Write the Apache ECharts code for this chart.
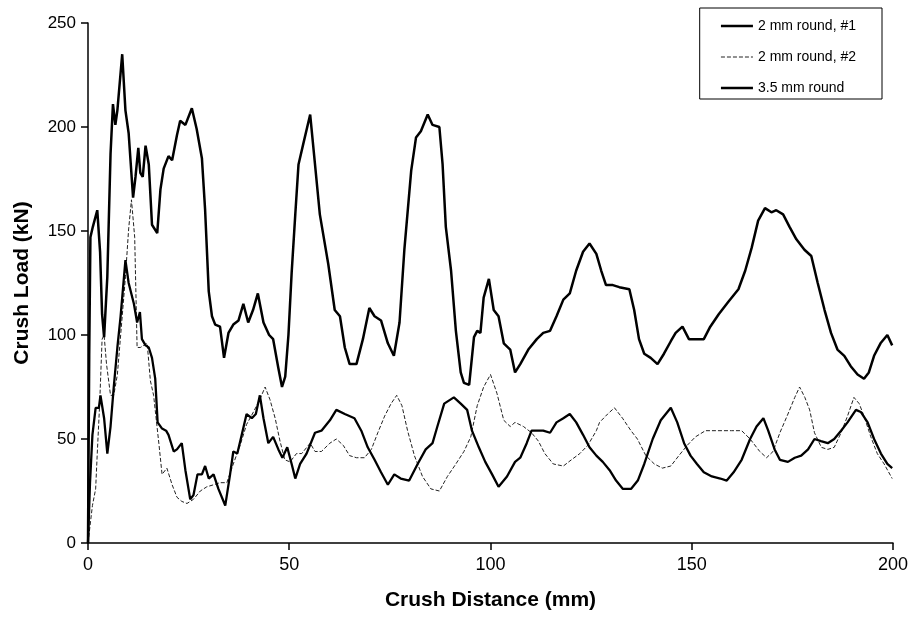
<!DOCTYPE html>
<html>
<head>
<meta charset="utf-8">
<script src="https://cdn.jsdelivr.net/npm/echarts@6/dist/echarts.min.js"></script>
<style>
  html, body { margin: 0; padding: 0; background: #fff; }
  #chart { width: 911px; height: 618px; }
</style>
</head>
<body>
<div id="chart"></div>
<script>
// Series names - as in the legend
const seriesNames = ['2 mm round, #1', '2 mm round, #2', '3.5 mm round'];

// 2 mm round, #1 (crush distance mm / crush load kN)
const dist1 = [0, 0.5, 1.1, 1.9, 2.7, 3.1, 4.0, 4.8, 5.6, 6.4, 7.3, 8.1, 9.3, 10.1, 11.4, 12.2, 12.9, 13.4, 14.3, 15.1,
  15.9, 16.7, 17.3, 18.4, 19.4, 20.0, 21.3, 22.1, 23.3, 24.2, 25.4, 26.2, 27.2, 28.3, 29.1, 30.0, 31.2, 32.4, 34.1, 35.3,
  36.1, 37.1, 38.2, 39.4, 40.7, 41.7, 42.7, 43.6, 44.8, 46.0, 47.3, 48.3, 49.5, 50.6, 51.5, 52.7, 54.3, 56.4, 58.0, 60.1,
  61.7, 63.8, 66.2, 67.9, 69.5, 71.2, 72.8, 74.5, 76.1, 77.7, 79.8, 81.9, 83.9, 85.6, 86.8, 88.5, 90.9, 92.6, 94.2, 95.4,
  97.1, 98.7, 100.4, 102.0, 104.1, 106.1, 107.4, 109.0, 110.2, 111.5, 113.1, 114.8, 116.4, 118.1, 119.7, 121.3, 123.0, 124.6, 126.3, 127.9,
  129.6, 131.2, 132.9, 134.9, 136.6, 138.2, 140.3, 142.3, 144.8, 146.4, 148.1, 149.7, 151.3, 153.0, 155.0, 157.1, 158.7, 160.4, 162.4, 164.5,
  166.1, 167.8, 169.0, 170.6, 171.9, 173.9, 175.6, 177.2, 178.9, 180.5, 182.1, 183.8, 185.4, 187.1, 188.7, 190.8, 192.0, 193.7, 195.3, 197.0,
  198.6, 199.8];
const load1 = [0, 29, 52, 65, 65, 71, 60, 43, 56, 75, 94, 109, 136, 125, 115, 106, 111, 98, 95, 94,
  89, 79, 58, 55, 54, 52, 44, 45, 48, 35, 21, 23, 33, 33, 37, 31, 33, 26, 18, 33,
  44, 43, 52, 62, 60, 62, 71, 60, 48, 51, 45, 41, 46, 38, 31, 38, 43, 53, 54, 59,
  64, 62, 60, 54, 46, 40, 34, 28, 33, 31, 30, 38, 45, 48, 56, 67, 70, 67, 64, 54,
  46, 39, 33, 27, 32, 39, 41, 48, 54, 54, 54, 53, 58, 60, 62, 58, 52, 46, 42, 39,
  35, 30, 26, 26, 30, 38, 50, 59, 65, 58, 48, 42, 38, 34, 32, 31, 30, 34, 40, 50,
  56, 60, 54, 45, 40, 39, 41, 42, 45, 50, 49, 48, 50, 54, 58, 64, 63, 58, 50, 43,
  38, 36];

// 2 mm round, #2
const dist2 = [0, 1.1, 1.9, 2.3, 2.9, 3.5, 4.0, 4.6, 5.6, 6.4, 7.3, 8.5, 9.3, 10.1, 10.8, 11.6, 12.2, 13.0, 14.7, 15.5,
  16.3, 17.6, 18.4, 19.6, 20.9, 22.1, 23.3, 24.6, 26.2, 27.9, 29.5, 31.2, 32.8, 34.5, 36.1, 37.8, 39.4, 41.1, 42.7, 44.0,
  45.2, 46.5, 47.7, 48.9, 50.2, 51.8, 53.1, 55.2, 56.4, 58.0, 60.1, 61.7, 63.4, 65.0, 66.7, 68.7, 70.4, 72.0, 73.7, 75.3,
  76.7, 78.0, 79.4, 81.1, 83.1, 85.2, 87.3, 89.3, 91.4, 93.4, 95.1, 96.7, 98.3, 100.0, 101.6, 103.3, 104.9, 106.1, 108.2, 110.2,
  111.9, 113.5, 115.6, 118.1, 120.1, 122.2, 124.2, 126.3, 127.1, 129.1, 130.8, 132.8, 134.9, 136.5, 138.6, 140.7, 142.7, 144.8, 146.8, 148.9,
  150.9, 153.4, 155.8, 157.9, 159.9, 162.4, 164.5, 166.9, 168.6, 170.2, 171.9, 173.9, 175.6, 176.8, 178.1, 179.3, 180.5, 182.2, 183.8, 185.4,
  187.1, 188.7, 190.3, 191.6, 192.8, 194.5, 196.1, 197.8, 199.8];
const load2 = [0, 18, 26, 43, 67, 98, 100, 86, 71, 71, 81, 109, 128, 151, 165, 147, 94, 94, 96, 78,
  71, 48, 33, 36, 28, 22, 20, 19, 21, 25, 27, 28, 29, 29, 38, 47, 57, 63, 69, 75,
  69, 60, 49, 40, 39, 43, 43, 48, 44, 44, 48, 50, 47, 42, 41, 41, 45, 53, 61, 67,
  71, 66, 54, 42, 32, 26, 25, 32, 38, 44, 51, 66, 75, 81, 72, 59, 56, 58, 56, 53,
  49, 43, 38, 37, 40, 43, 47, 54, 58, 62, 65, 60, 54, 50, 42, 38, 36, 37, 42, 47,
  51, 54, 54, 54, 54, 54, 50, 44, 41, 44, 53, 62, 70, 75, 70, 64, 53, 46, 45, 46,
  53, 61, 70, 67, 61, 51, 43, 38, 31];

// 3.5 mm round
const dist35 = [0, 0.3, 0.6, 1.2, 2.3, 3.0, 3.5, 4.0, 4.8, 5.6, 6.2, 6.8, 7.3, 8.5, 9.3, 10.1, 11.2, 11.8, 12.5, 13.0,
  13.6, 14.3, 15.1, 15.9, 17.2, 18.0, 18.8, 20.0, 20.9, 22.1, 22.9, 24.2, 25.8, 27.0, 28.3, 29.1, 30.0, 30.8, 31.6, 32.8,
  33.8, 34.9, 36.1, 37.4, 38.6, 39.8, 41.0, 42.2, 43.6, 45.0, 46.0, 47.3, 48.2, 49.0, 49.8, 50.6, 51.5, 52.3, 53.5, 55.2,
  56.4, 57.6, 59.7, 61.3, 62.6, 63.8, 65.0, 66.7, 68.3, 69.9, 71.2, 72.8, 74.5, 76.0, 77.4, 78.6, 80.3, 81.5, 82.7, 84.4,
  85.6, 87.3, 88.1, 88.9, 90.2, 91.4, 92.6, 93.4, 94.7, 95.9, 96.7, 97.5, 98.3, 99.6, 100.8, 102.0, 103.3, 104.9, 106.1, 107.4,
  109.4, 111.5, 113.1, 114.8, 116.4, 118.1, 119.7, 121.3, 123.0, 124.6, 126.3, 127.5, 128.7, 130.4, 132.0, 134.5, 135.7, 136.9, 138.2, 139.8,
  141.5, 143.1, 144.8, 146.0, 147.7, 149.3, 150.9, 153.0, 154.6, 156.7, 159.1, 161.6, 163.3, 164.9, 166.5, 168.2, 169.8, 171.0, 172.7, 174.3,
  176.0, 178.0, 179.7, 181.3, 183.0, 184.6, 186.2, 187.9, 189.5, 191.2, 192.8, 194.0, 195.3, 196.9, 198.6, 199.8];
const load35 = [0, 90, 147, 152, 160, 140, 110, 99, 128, 187, 211, 201, 208, 235, 208, 197, 166, 176, 190, 178,
  176, 191, 182, 153, 149, 170, 180, 186, 184, 196, 203, 201, 209, 199, 185, 160, 121, 109, 105, 104,
  89, 101, 105, 107, 115, 106, 112, 120, 106, 100, 98, 84, 75, 80, 100, 130, 158, 182, 192, 206,
  182, 158, 134, 112, 109, 94, 86, 86, 98, 113, 109, 107, 96, 90, 106, 141, 179, 195, 198, 206,
  201, 200, 182, 152, 131, 102, 82, 77, 76, 99, 102, 101, 118, 127, 112, 109, 96, 93, 82, 86,
  93, 98, 101, 102, 109, 117, 120, 131, 140, 144, 139, 131, 124, 124, 123, 122, 112, 98, 91, 89,
  86, 91, 97, 101, 104, 98, 98, 98, 104, 110, 116, 122, 131, 142, 155, 161, 159, 160, 158, 152,
  146, 141, 138, 125, 112, 101, 93, 90, 85, 81, 79, 82, 90, 96, 100, 95];

// Axis ticks
const xTicks = [0, 50, 100, 150, 200];
const yTicks = [0, 50, 100, 150, 200, 250];

const pairs = (xs, ys) => xs.map((x, i) => [x, ys[i]]);

const chart = echarts.init(document.getElementById('chart'));
const font = 'Arial, "Liberation Sans", sans-serif';

const option = {
  animation: false,
  backgroundColor: '#fff',
  textStyle: { fontFamily: font, color: '#000' },
  grid: { left: 88, right: 11, top: 23, bottom: 75 },
  legend: {
    data: [
      { name: seriesNames[0], lineStyle: { width: 2.5 } },
      { name: seriesNames[1], lineStyle: { width: 1 } },
      { name: seriesNames[2], lineStyle: { width: 2.5 } }
    ],
    orient: 'vertical',
    right: 29,
    top: 8,
    padding: [11, 26, 4, 20],
    itemGap: 17,
    itemWidth: 32,
    itemHeight: 14,
    itemStyle: { opacity: 0 },
    borderColor: '#000',
    borderWidth: 1,
    textStyle: { fontFamily: font, fontSize: 14, color: '#000' }
  },
  xAxis: {
    type: 'value',
    min: xTicks[0],
    max: xTicks[xTicks.length - 1],
    interval: 50,
    name: 'Crush Distance (mm)',
    nameLocation: 'middle',
    nameGap: 47,
    nameTextStyle: { fontSize: 21, fontWeight: 'bold', color: '#000' },
    splitLine: { show: false },
    axisLine: { lineStyle: { color: '#000', width: 1.5 } },
    axisTick: { length: 7, lineStyle: { color: '#000', width: 1.5 } },
    axisLabel: { fontSize: 18, color: '#000', margin: 13 }
  },
  yAxis: {
    type: 'value',
    min: yTicks[0],
    max: yTicks[yTicks.length - 1],
    interval: 50,
    name: 'Crush Load (kN)',
    nameLocation: 'middle',
    nameGap: 55,
    nameTextStyle: { fontSize: 21, fontWeight: 'bold', color: '#000' },
    splitLine: { show: false },
    axisLine: { show: true, lineStyle: { color: '#000', width: 1.5 } },
    axisTick: { show: true, length: 7, lineStyle: { color: '#000', width: 1.5 } },
    axisLabel: { fontSize: 17, color: '#000', margin: 12 }
  },
  series: [
    {
      name: seriesNames[0],
      type: 'line',
      symbol: 'none',
      data: pairs(dist1, load1),
      lineStyle: { color: '#000', width: 2.3 },
      itemStyle: { color: '#000' },
      z: 3
    },
    {
      name: seriesNames[1],
      type: 'line',
      symbol: 'none',
      data: pairs(dist2, load2),
      lineStyle: { color: '#222', width: 1, type: [4, 2] },
      itemStyle: { color: '#222' },
      z: 2
    },
    {
      name: seriesNames[2],
      type: 'line',
      symbol: 'none',
      data: pairs(dist35, load35),
      lineStyle: { color: '#000', width: 2.5 },
      itemStyle: { color: '#000' },
      z: 4
    }
  ]
};

chart.setOption(option);
</script>
</body>
</html>
